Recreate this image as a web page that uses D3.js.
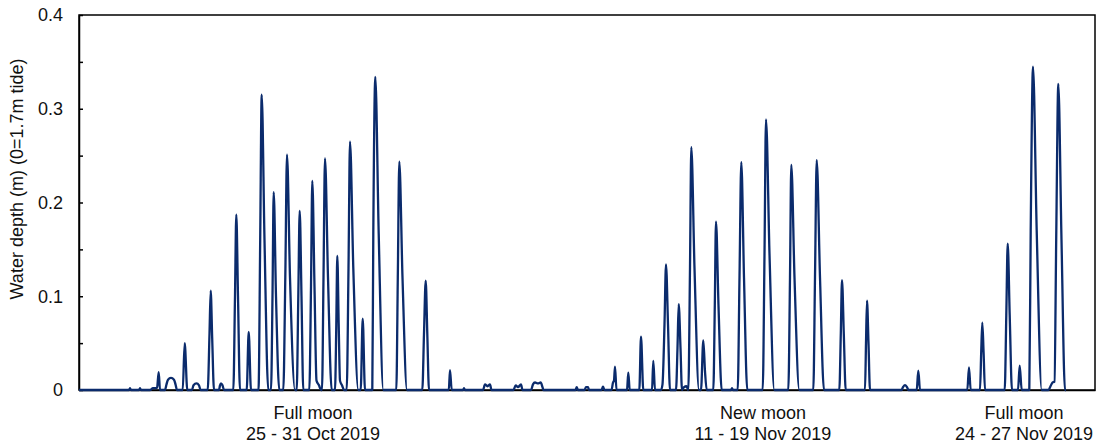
<!DOCTYPE html>
<html>
<head>
<meta charset="utf-8">
<script src="https://cdn.jsdelivr.net/npm/d3@7"></script>
<style>
  html, body { margin: 0; padding: 0; background: #fff; }
  svg { display: block; }
  text { font-family: "Liberation Sans", Arial, sans-serif; }
</style>
</head>
<body>
<svg id="chart" width="1099" height="446"></svg>
<script>
// ---- Data (hours since start of record, water depth in m) ----
const octHours = [0, 50, 51, 52, 60, 61, 62, 71, 74, 77, 78, 79.7, 81,
  86, 87.5, 89, 92, 95, 96.5, 98,
  103.7, 105.7, 108.3,
  113, 114.5, 117.5, 120, 121.5,
  128.7, 130.5, 131.7, 133.2, 135,
  140, 141, 142, 143.5, 145,
  154.3, 156, 157.3, 159, 161,
  167.7, 169.7, 172,
  179.5, 181.2, 182.7, 185.5, 189.3,
  192, 193.5, 194.7, 197, 200.3,
  204.3, 206.3, 208, 211, 216,
  217.7, 219.3, 220.7, 222.5, 224.3,
  230.3, 232, 233.3, 235.5, 237.5, 240, 242,
  243, 244.5, 246, 249, 252.7,
  256, 257.3, 258.3, 259.7, 261, 263, 265,
  267.7, 269.5, 271, 274.3, 279.3,
  281.7, 283.7, 286,
  293.3, 294.3, 296.3, 299.7, 304.3,
  317.3, 318.8, 320.3, 323.5, 328,
  343.3, 345, 346.7, 348.3, 350,
  369.8, 371, 372.7,
  384, 385, 386];
const octDepth = [0, 0, 0.002, 0, 0, 0.002, 0, 0, 0.002, 0.002, 0.002, 0.019, 0,
  0, 0.006, 0.011, 0.013, 0.011, 0.006, 0,
  0, 0.050, 0,
  0, 0.005, 0.007, 0.005, 0,
  0, 0.06, 0.106, 0.055, 0,
  0, 0.005, 0.007, 0.005, 0,
  0, 0.10, 0.187, 0.10, 0,
  0, 0.062, 0,
  0, 0.16, 0.315, 0.16, 0,
  0, 0.10, 0.211, 0.10, 0,
  0, 0.12, 0.251, 0.12, 0,
  0, 0.10, 0.191, 0.10, 0,
  0, 0.11, 0.223, 0.11, 0.010, 0.005, 0,
  0, 0.12, 0.247, 0.12, 0,
  0, 0.07, 0.143, 0.07, 0.010, 0.005, 0,
  0, 0.13, 0.265, 0.13, 0,
  0, 0.076, 0,
  0, 0.167, 0.334, 0.167, 0,
  0, 0.12, 0.2435, 0.12, 0,
  0, 0.06, 0.1166, 0.06, 0,
  0, 0.0213, 0,
  0, 0.002, 0];

const novHours = [404, 406, 408.5, 411, 412.5,
  434.5, 436.7, 439, 442, 443.5,
  452, 454, 456, 459, 461.7, 463.5, 464.5,
  496.5, 497.7, 499,
  505.5, 507, 509, 510,
  522.5, 524, 525.5,
  532.5, 534, 535, 536, 537.5,
  548, 549.3, 550.7,
  560.3, 562, 564.3,
  573, 574.3, 576,
  582, 583.5, 585.5, 587, 589, 591,
  597, 598.5, 599.7, 601.5, 603, 605, 607.5,
  609.3, 611, 612.3, 615.5, 620,
  622, 624.3, 626, 627.7,
  634.3, 635.8, 637, 639.5, 642.7,
  652, 653, 654,
  658.7, 660.5, 662.3, 665, 668.3,
  683.7, 685.5, 687, 690.5, 695.3,
  709.3, 711, 712.3, 715.5, 720.3,
  734.3, 736, 737.7, 741, 745,
  760.3, 761.8, 763, 764.8, 766.7,
  786, 787, 788, 789.5, 791,
  822.5, 824, 826, 828, 829.5,
  837.7, 839.3, 841];
const novDepth = [0, 0.006, 0.004, 0.006, 0,
  0, 0.005, 0.003, 0.006, 0,
  0, 0.006, 0.008, 0.007, 0.008, 0.003, 0,
  0, 0.003, 0,
  0, 0.003, 0.003, 0,
  0, 0.0035, 0,
  0, 0.008, 0.010, 0.025, 0,
  0, 0.0185, 0,
  0, 0.057, 0,
  0, 0.031, 0,
  0, 0.006, 0.07, 0.134, 0.07, 0,
  0, 0.045, 0.0917, 0.045, 0, 0.003, 0.004,
  0, 0.13, 0.259, 0.13, 0,
  0, 0.053, 0.02, 0,
  0, 0.09, 0.1796, 0.09, 0,
  0, 0.002, 0,
  0, 0.12, 0.243, 0.12, 0,
  0, 0.145, 0.2887, 0.145, 0,
  0, 0.12, 0.240, 0.12, 0,
  0, 0.12, 0.2453, 0.12, 0,
  0, 0.06, 0.1173, 0.06, 0,
  0, 0.05, 0.0953, 0.05, 0,
  0, 0.003, 0.0053, 0.003, 0,
  0, 0.0206, 0];

const lateHours = [888.3, 890, 891.7,
  901, 902.2, 903.3, 904.6, 906,
  925.7, 927.3, 928.7, 930.7, 933,
  939, 940.7, 942.7,
  950.3, 951.7, 954, 957.7, 962.7,
  969.5, 971.5, 973.5, 975.5, 977.2, 979.3, 982.5, 986, 987];
const lateDepth = [0, 0.024, 0,
  0, 0.04, 0.0718, 0.04, 0,
  0, 0.08, 0.156, 0.08, 0,
  0, 0.026, 0,
  0, 0.17, 0.345, 0.17, 0,
  0, 0.004, 0.008, 0.009, 0.16, 0.3264, 0.16, 0, 0];

const hourDomain = [0, 1016];
const yTickValues = [0, 0.05, 0.1, 0.15, 0.2, 0.25, 0.3, 0.35, 0.4];
const yTickLabels = ["0", "", "0.1", "", "0.2", "", "0.3", "", "0.4"];
const moonTitles = ["Full moon", "New moon", "Full moon"];
const moonDates = ["25 - 31 Oct 2019", "11 - 19 Nov 2019", "24 - 27 Nov 2019"];
const moonHours = [234, 684, 945];
const yTitle = "Water depth (m) (0=1.7m tide)";

(function () {
  // ---- Build series ----
  const hours = octHours.concat(novHours, lateHours);
  const depths = octDepth.concat(novDepth, lateDepth);
  const series = hours.map((h, i) => ({ h, d: depths[i] }));

  // ---- Layout ----
  const svg = d3.select("#chart");
  const pLeft = 79, pRight = 1095, pTop = 15, pBottom = 390;

  const x = d3.scaleLinear().domain(hourDomain).range([pLeft, pRight]);
  const y = d3.scaleLinear().domain([0, 0.4]).range([pBottom, pTop]);

  const textColor = "#111";

  // frame (top and right borders)
  svg.append("rect")
    .attr("x", pLeft).attr("y", pTop)
    .attr("width", pRight - pLeft).attr("height", pBottom - pTop)
    .attr("fill", "none").attr("stroke", "#000").attr("stroke-width", 1.5);

  // y axis with inward ticks
  const yAxis = d3.axisLeft(y)
    .tickValues(yTickValues)
    .tickFormat((d, i) => yTickLabels[i])
    .tickSizeInner(-4)
    .tickSizeOuter(0)
    .tickPadding(16);

  const gy = svg.append("g")
    .attr("transform", `translate(${pLeft},0)`)
    .call(yAxis);
  gy.select(".domain").attr("stroke", "#000").attr("stroke-width", 1.5);
  gy.selectAll(".tick line").attr("stroke", "#000").attr("stroke-width", 1.5);
  gy.selectAll(".tick text")
    .attr("fill", textColor)
    .style("font-size", "18px")
    .style("font-family", "'Liberation Sans', Arial, sans-serif");

  // bottom axis line
  const xAxis = d3.axisBottom(x).tickValues([]).tickSizeOuter(0);
  const gx = svg.append("g")
    .attr("transform", `translate(0,${pBottom})`)
    .call(xAxis);
  gx.select(".domain").attr("stroke", "#000").attr("stroke-width", 1.5);

  // data line
  const line = d3.line()
    .x(d => x(d.h))
    .y(d => y(d.d))
    .curve(d3.curveMonotoneX);

  svg.append("path")
    .datum(series)
    .attr("d", line)
    .attr("fill", "none")
    .attr("stroke", "#0b2b6c")
    .attr("stroke-width", 2.3)
    .attr("stroke-linejoin", "round");

  // y title
  svg.append("text")
    .attr("transform", `translate(23,179) rotate(-90)`)
    .attr("text-anchor", "middle")
    .attr("fill", textColor)
    .style("font-size", "18px")
    .text(yTitle);

  // moon annotations
  const ann = svg.append("g");
  moonHours.forEach((h, i) => {
    ann.append("text")
      .attr("x", x(h)).attr("y", 419)
      .attr("text-anchor", "middle")
      .attr("fill", textColor)
      .style("font-size", "18px")
      .text(moonTitles[i]);
    ann.append("text")
      .attr("x", x(h)).attr("y", 440)
      .attr("text-anchor", "middle")
      .attr("fill", textColor)
      .style("font-size", "18px")
      .text(moonDates[i]);
  });
})();
</script>
</body>
</html>
